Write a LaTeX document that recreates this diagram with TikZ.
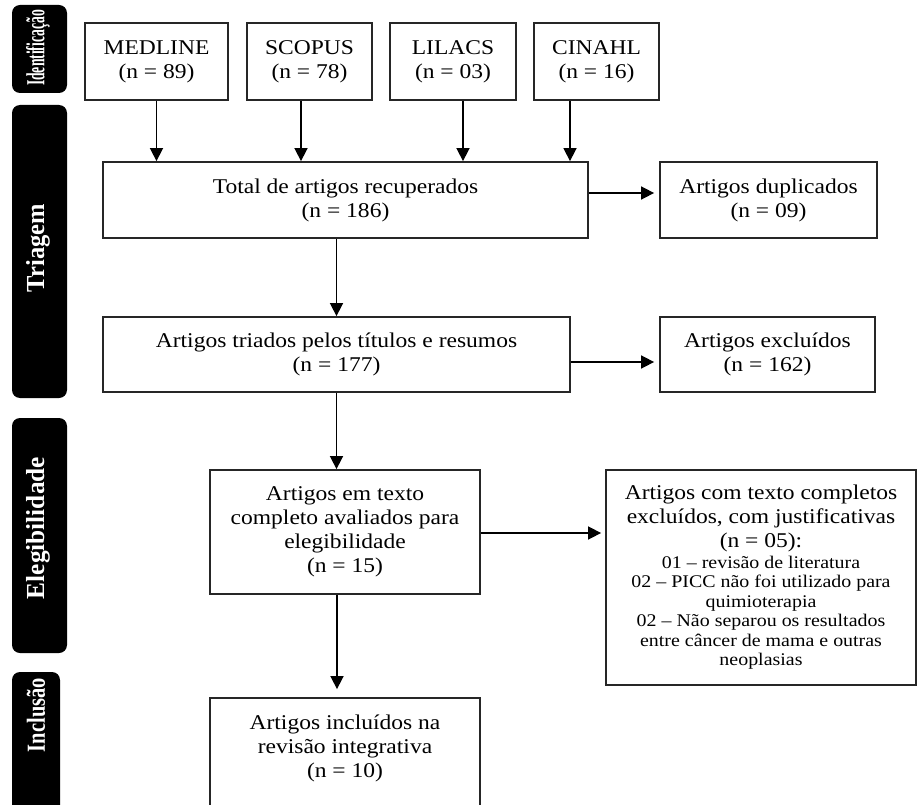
\documentclass[tikz,border=0pt]{standalone}
\usepackage{fontspec}
\usepackage{graphicx}
\setmainfont{Liberation Serif}[FakeStretch=1.12]
\newfontfamily\tabfont{Liberation Serif}
\usetikzlibrary{arrows.meta}
\tikzset{
  box/.style={draw=black!85, line width=1.8pt, fill=white, align=center, inner sep=0pt,
              font=\fontsize{21}{24}\selectfont},
  arr/.style={-{Triangle[length=13pt,width=13pt]}, line width=1.6pt, draw=black},
  tab/.style={fill=black, rounded corners=8pt},
  tablabel/.style={text=white, rotate=90, inner sep=0pt,
                   font=\tabfont\bfseries\fontsize{26}{26}\selectfont}
}
\begin{document}
\begin{tikzpicture}[x=1pt,y=-1pt]
\useasboundingbox (0,0) rectangle (918,805);
\clip (0,0) rectangle (918,805);
\fill[white] (0,0) rectangle (918,805);

% phase tabs
\fill[tab] (12,5) rectangle (67,93);
\fill[tab] (12,105) rectangle (67,398);
\fill[tab] (12,418) rectangle (67,653);
\fill[tab] (12,672) rectangle (60,840);
\node[tablabel] (t1) at (38,48) {\resizebox{76pt}{\height}{Identificação}};
\node[tablabel] (t2) at (38,248) {\resizebox{88pt}{\height}{Triagem}};
\node[tablabel] (t3) at (38,528) {\resizebox{142pt}{\height}{Elegibilidade}};
\node[tablabel] (t4) at (36,715) {\resizebox{74pt}{\height}{Inclusão}};

% sources
\node[box, minimum width=143pt, minimum height=77pt] (med) at (156.5,61.5) {MEDLINE\\(n = 89)};
\node[box, minimum width=125pt, minimum height=77pt] (sco) at (309.5,61.5) {SCOPUS\\(n = 78)};
\node[box, minimum width=126pt, minimum height=77pt] (lil) at (453,61.5) {LILACS\\(n = 03)};
\node[box, minimum width=125pt, minimum height=77pt] (cin) at (596.5,61.5) {CINAHL\\(n = 16)};

% flow boxes
\node[box, minimum width=485pt, minimum height=76pt] (tot) at (345.5,200) {Total de artigos recuperados\\(n = 186)};
\node[box, minimum width=217pt, minimum height=76pt] (dup) at (768.5,200) {Artigos duplicados\\(n = 09)};
\node[box, minimum width=467pt, minimum height=75pt] (tri) at (336.5,354.5) {Artigos triados pelos títulos e resumos\\(n = 177)};
\node[box, minimum width=215pt, minimum height=75pt] (exc) at (767.5,354.5) {Artigos excluídos\\(n = 162)};
\node[box, minimum width=270pt, minimum height=124pt] (ele) at (345,532) {Artigos em texto\\completo avaliados para\\elegibilidade\\(n = 15)};
\node[box, minimum width=310pt, minimum height=215pt, font=\fontsize{17.8}{19.5}\selectfont] (jus) at (761,577.5)
  {{\fontsize{21}{24}\selectfont Artigos com texto completos}\\[4pt]
   {\fontsize{21}{24}\selectfont excluídos, com justificativas}\\[5pt]
   {\fontsize{21}{24}\selectfont (n = 05):}\\[1pt]
   01 – revisão de literatura\\
   02 – PICC não foi utilizado para\\
   quimioterapia\\
   02 – Não separou os resultados\\
   entre câncer de mama e outras\\
   neoplasias};
\node[box, minimum width=270pt, minimum height=114pt] (inc) at (345,755) {Artigos incluídos na\\revisão integrativa\\(n = 10)\\[-6pt]\mbox{}};

% connectors
\draw[arr] (med.south) -- (med.south |- tot.north);
\draw[arr] ([xshift=-8.5pt]sco.south) -- ([xshift=-8.5pt]sco.south |- tot.north);
\draw[arr] ([xshift=10pt]lil.south) -- ([xshift=10pt]lil.south |- tot.north);
\draw[arr] ([xshift=-26.5pt]cin.south) -- ([xshift=-26.5pt]cin.south |- tot.north);
\draw[arr] ([yshift=7pt]tot.east) -- ([yshift=7pt,xshift=-5pt]tot.east -| dup.west);
\draw[arr] (tri.north |- tot.south) -- (tri.north);
\draw[arr] ([yshift=-7.5pt]tri.east) -- ([yshift=-7.5pt,xshift=-5pt]tri.east -| exc.west);
\draw[arr] (tri.south) -- (tri.south |- ele.north);
\draw[arr] ([yshift=-1pt]ele.east) -- ([yshift=-1pt,xshift=-4pt]ele.east -| jus.west);
\draw[arr, shorten >=8pt] ([xshift=-8pt]ele.south) -- ([xshift=-8pt]ele.south |- inc.north);
\end{tikzpicture}
\end{document}
